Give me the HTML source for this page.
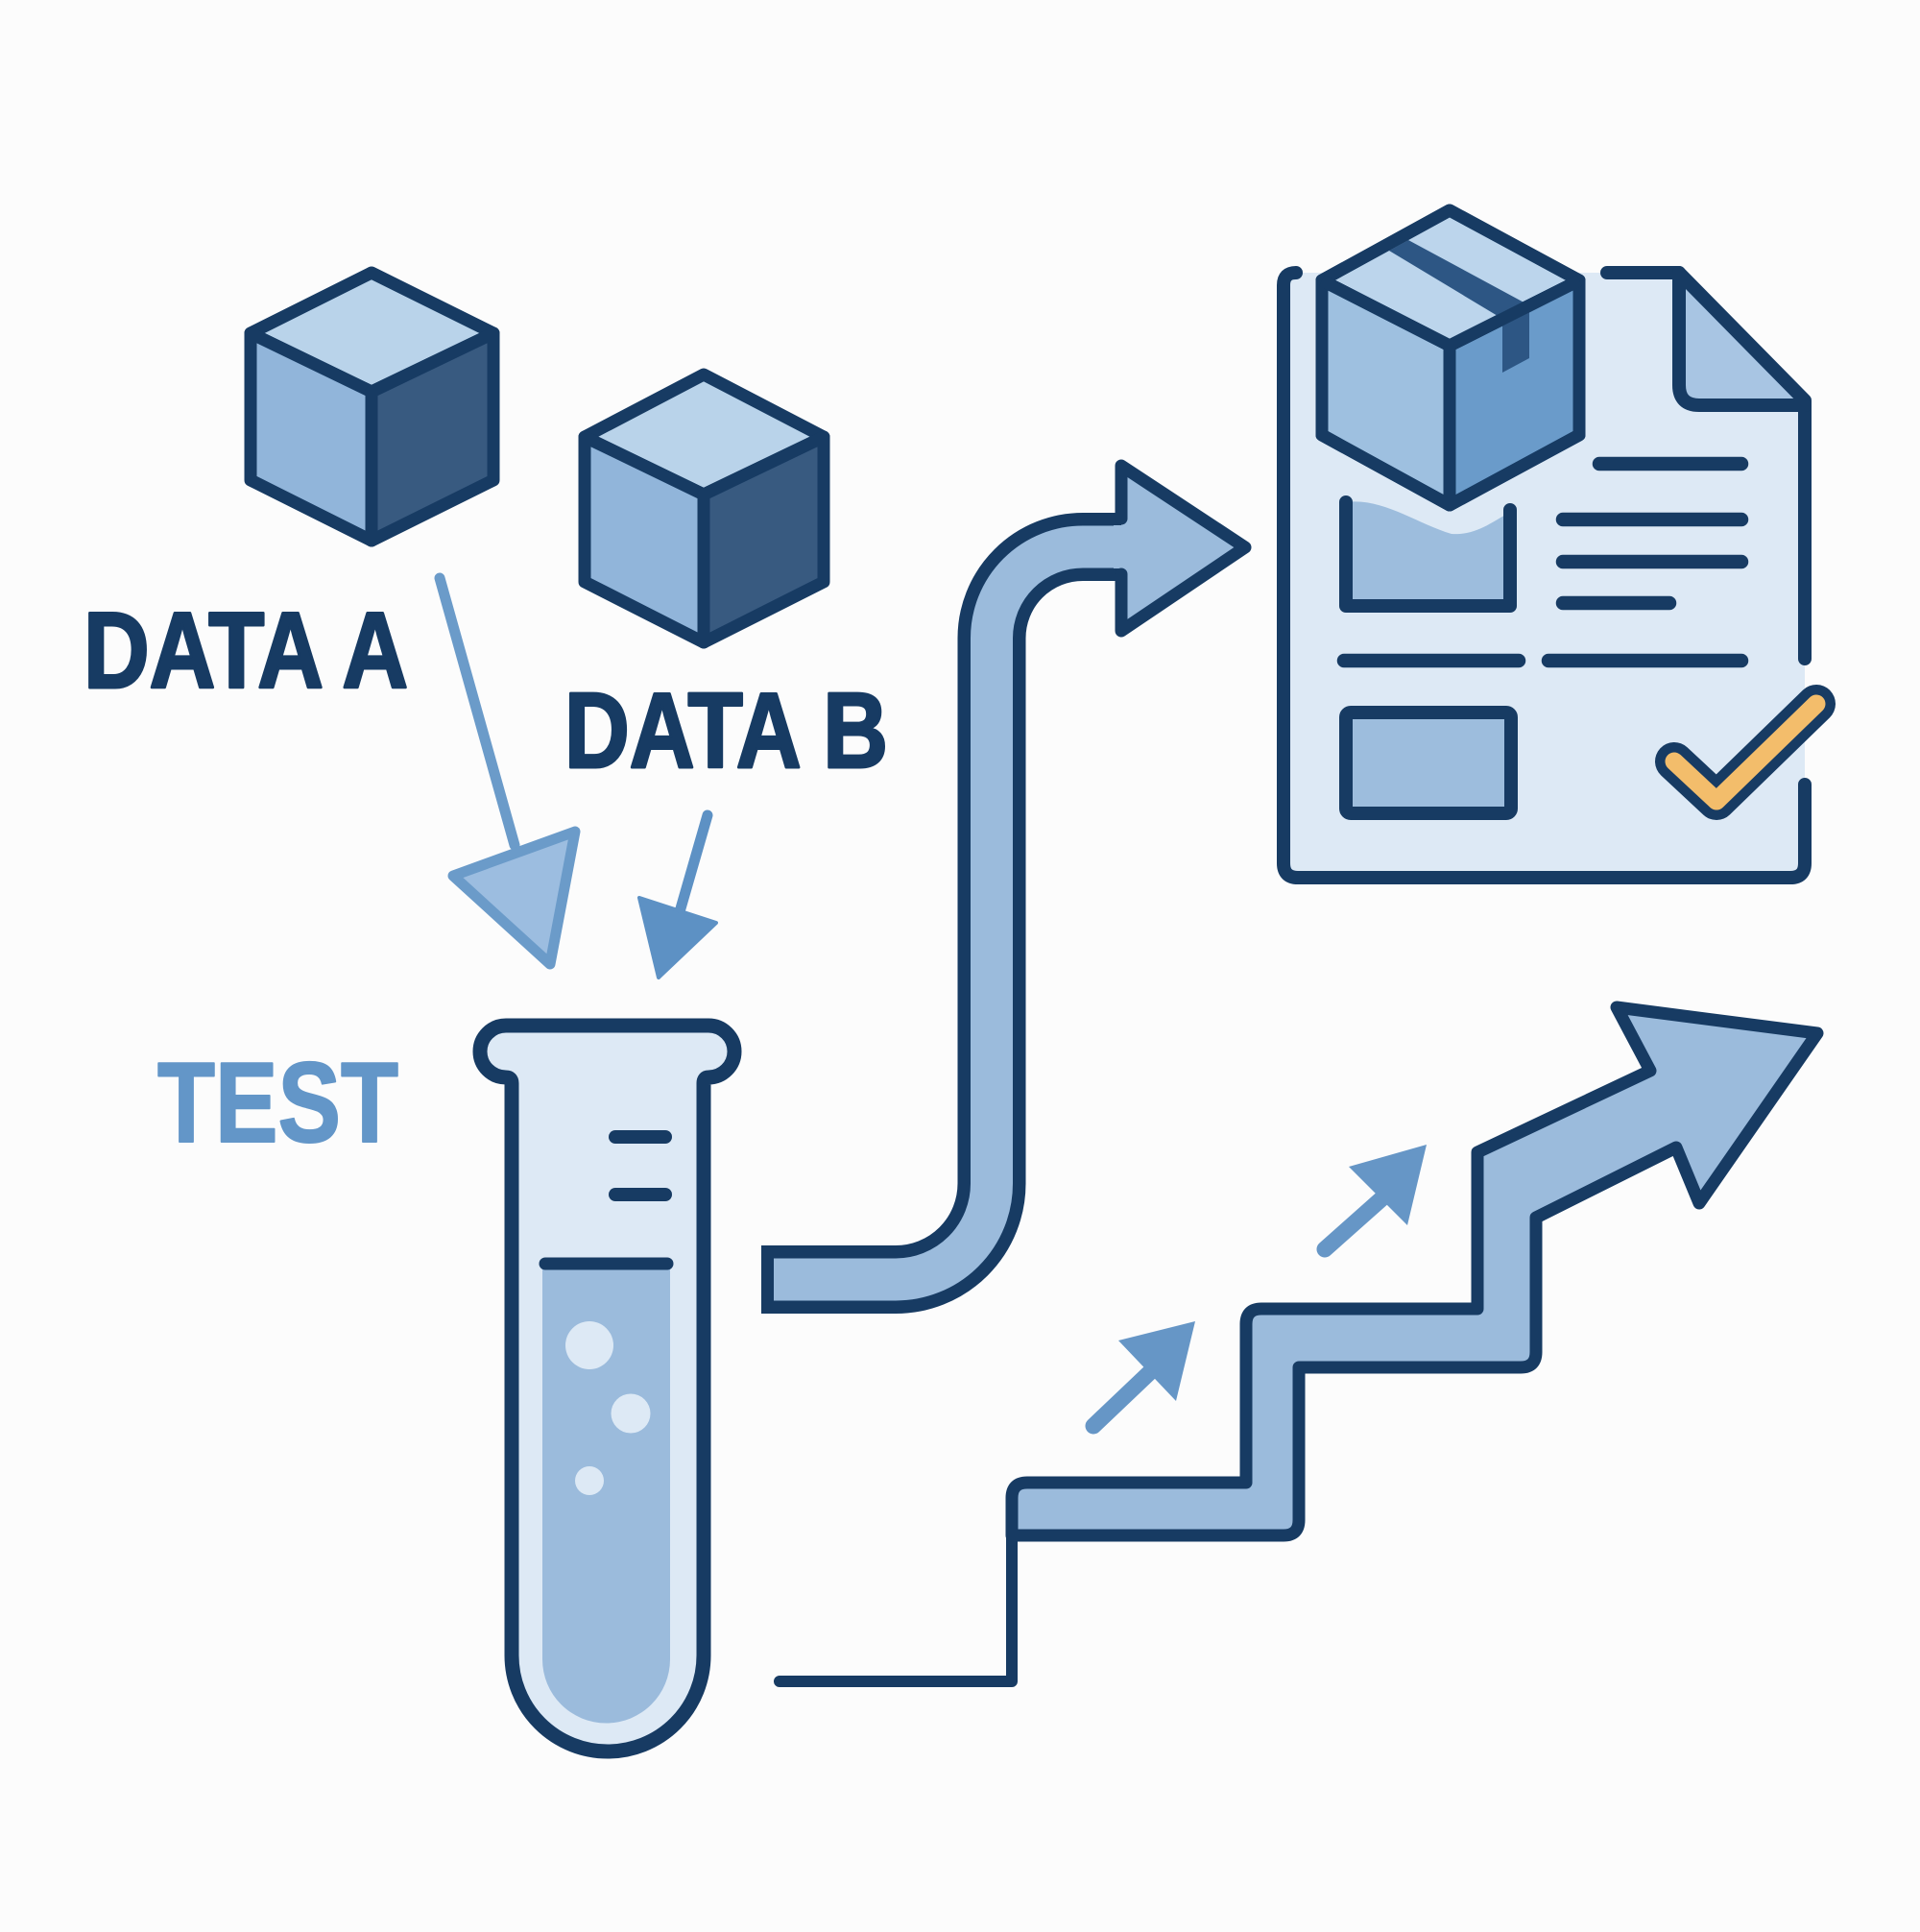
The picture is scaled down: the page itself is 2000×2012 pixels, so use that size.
<!DOCTYPE html>
<html>
<head>
<meta charset="utf-8">
<style>
html,body{margin:0;padding:0;background:#fcfcfc;}
svg{display:block;}
</style>
</head>
<body>
<svg width="2000" height="2012" viewBox="0 0 2000 2012" xmlns="http://www.w3.org/2000/svg">
<rect x="0" y="0" width="2000" height="2012" fill="#fcfcfc"/>

<!-- Cube A -->
<g stroke="#173b63" stroke-width="13" stroke-linejoin="round">
  <polygon points="387,284 514,347 387,408 261,347" fill="#b9d3ea"/>
  <polygon points="261,347 387,408 387,563 261,500" fill="#91b5da"/>
  <polygon points="387,408 514,347 514,500 387,563" fill="#385a80"/>
</g>

<!-- Cube B -->
<g stroke="#173b63" stroke-width="13" stroke-linejoin="round">
  <polygon points="733,390 858,455 733,515 609,455" fill="#b9d3ea"/>
  <polygon points="609,455 733,515 733,669 609,606" fill="#91b5da"/>
  <polygon points="733,515 858,455 858,606 733,669" fill="#385a80"/>
</g>

<!-- Labels -->
<text x="87" y="716" font-family="Liberation Sans, Arial, sans-serif" font-weight="bold" font-size="112" fill="#173b63" stroke="#173b63" stroke-width="3" stroke-linejoin="round" textLength="338" lengthAdjust="spacingAndGlyphs">DATA A</text>
<text x="588" y="799" font-family="Liberation Sans, Arial, sans-serif" font-weight="bold" font-size="111" fill="#173b63" stroke="#173b63" stroke-width="3" stroke-linejoin="round" textLength="337" lengthAdjust="spacingAndGlyphs">DATA B</text>
<text x="164" y="1189" font-family="Liberation Sans, Arial, sans-serif" font-weight="bold" font-size="119" fill="#6396c8" stroke="#6396c8" stroke-width="2" stroke-linejoin="round" textLength="251" lengthAdjust="spacingAndGlyphs">TEST</text>

<!-- Arrow A -->
<line x1="458" y1="602" x2="536" y2="880" stroke="#6b9bc9" stroke-width="11" stroke-linecap="round"/>
<polygon points="472,912 599,866 573,1004" fill="#9cbde0" stroke="#6b9bc9" stroke-width="11" stroke-linejoin="round"/>

<!-- Arrow B -->
<line x1="737" y1="849" x2="705" y2="960" stroke="#5d91c4" stroke-width="11" stroke-linecap="round"/>
<polygon points="666,935 746,961 686,1018" fill="#5d91c4" stroke="#5d91c4" stroke-width="4" stroke-linejoin="round"/>

<!-- Test tube -->
<path d="M 533 1724 L 533 1128 Q 533 1122 527 1122 A 27 27 0 0 1 527 1068 L 738 1068 A 27 27 0 0 1 738 1122 Q 733 1122 733 1128 L 733 1724 A 100 100 0 0 1 533 1724 Z" fill="#dde9f5" stroke="#173b63" stroke-width="15" stroke-linejoin="round"/>
<path d="M565 1317 H698 V1728 A66.5 66.5 0 0 1 565 1728 Z" fill="#9bbbdc"/>
<line x1="568" y1="1316" x2="695" y2="1316" stroke="#173b63" stroke-width="13" stroke-linecap="round"/>
<line x1="641" y1="1184" x2="693" y2="1184" stroke="#173b63" stroke-width="14" stroke-linecap="round"/>
<line x1="641" y1="1244" x2="693" y2="1244" stroke="#173b63" stroke-width="14" stroke-linecap="round"/>
<circle cx="614" cy="1401" r="25" fill="#dde9f5"/>
<circle cx="657" cy="1472" r="20.5" fill="#dde9f5"/>
<circle cx="614" cy="1542" r="15" fill="#dde9f5"/>

<!-- Curved arrow -->
<path d="M 793 1332.5 H 933 A 100 100 0 0 0 1033 1232.5 V 664.5 A 95 95 0 0 1 1128 569.5 H 1174" fill="none" stroke="#173b63" stroke-width="71"/>
<path d="M 806 1332.5 H 933 A 100 100 0 0 0 1033 1232.5 V 664.5 A 95 95 0 0 1 1128 569.5 H 1180" fill="none" stroke="#9bbbdc" stroke-width="44"/>
<polygon points="1168,485 1297,570 1168,657" fill="#9bbbdc"/>
<rect x="1160" y="547" width="14" height="45" fill="#9bbbdc"/>
<path d="M1168 540 V485 L1297 570 L1168 657 V598" fill="none" stroke="#173b63" stroke-width="13" stroke-linejoin="round" stroke-linecap="round"/>

<!-- Document -->
<path d="M 1350 284 H 1749 L 1880 417 V 899 Q 1880 914 1865 914 H 1352 Q 1337 914 1337 899 V 297 Q 1337 284 1350 284 Z" fill="#dde9f5"/>
<path d="M 1749 284 L 1880 417 V 422 H 1770 Q 1749 422 1749 401 Z" fill="#a8c5e3"/>
<g fill="none" stroke="#173b63" stroke-width="14" stroke-linecap="round" stroke-linejoin="round">
  <path d="M 1350 284 Q 1337 284 1337 297 V 899 Q 1337 914 1352 914 H 1865 Q 1880 914 1880 899 V 817"/>
  <path d="M 1674 284 H 1749 L 1880 417 V 686"/>
  <path d="M 1749 284 V 401 Q 1749 422 1770 422 H 1880"/>
</g>

<!-- inner box with wave -->
<path d="M 1402 523 C 1440 518 1475 545 1512 556 C 1540 558 1558 540 1573 534 V 631 H 1402 Z" fill="#9dbddd"/>
<path d="M 1402 523 V 631 H 1573 V 531" fill="none" stroke="#173b63" stroke-width="14" stroke-linecap="round" stroke-linejoin="round"/>

<!-- bottom rect -->
<rect x="1402" y="742" width="172" height="105" rx="5" fill="#9dbddd" stroke="#173b63" stroke-width="14"/>

<!-- text lines -->
<g stroke="#173b63" stroke-width="14.5" stroke-linecap="round">
  <line x1="1666" y1="483" x2="1814" y2="483"/>
  <line x1="1628" y1="541" x2="1814" y2="541"/>
  <line x1="1628" y1="585" x2="1814" y2="585"/>
  <line x1="1628" y1="628" x2="1739" y2="628"/>
  <line x1="1400" y1="688" x2="1582" y2="688"/>
  <line x1="1613" y1="688" x2="1814" y2="688"/>
</g>

<!-- checkmark -->
<polyline points="1744,793 1788,834 1892,733" fill="none" stroke="#173b63" stroke-width="40" stroke-linecap="round" stroke-linejoin="round"/>
<polyline points="1744,793 1788,834 1892,733" fill="none" stroke="#f3bd6b" stroke-width="19" stroke-linecap="round" stroke-linejoin="round"/>

<!-- Box in document -->
<g stroke="#173b63" stroke-width="13" stroke-linejoin="round">
  <polygon points="1510,219 1645,292 1510,360 1377,292" fill="#bcd5ec"/>
  <polygon points="1377,292 1510,360 1510,526 1377,453" fill="#9ec0e0"/>
  <polygon points="1510,360 1645,292 1645,453 1510,526" fill="#6a9bca"/>
</g>
<polygon points="1447,261 1467,250 1593,318 1593,373 1565,388 1565,332" fill="#2d5684"/>
<g fill="none" stroke="#173b63" stroke-width="13" stroke-linejoin="round">
  <polygon points="1510,219 1645,292 1645,453 1510,526 1377,453 1377,292"/>
  <polyline points="1377,292 1510,360 1645,292"/>
  <line x1="1510" y1="360" x2="1510" y2="526"/>
</g>

<!-- Stair arrow -->
<path d="M 812 1751 H 1054 V 1590" fill="none" stroke="#173b63" stroke-width="12" stroke-linecap="round" stroke-linejoin="round"/>
<path d="M 1054 1560 Q 1054 1544 1070 1544 H 1298 V 1379 Q 1298 1363 1314 1363 H 1539 V 1200 L 1719 1115 L 1684 1049 L 1893 1076 L 1770 1253 L 1746 1195 L 1600 1268 V 1408 Q 1600 1424 1584 1424 H 1353 V 1583 Q 1353 1599 1337 1599 H 1054 Z" fill="#9bbbdc" stroke="#173b63" stroke-width="13" stroke-linejoin="round"/>

<!-- small stair arrows -->
<line x1="1139" y1="1485" x2="1200" y2="1427" stroke="#6696c6" stroke-width="17" stroke-linecap="round"/>
<polygon points="1165,1396 1245,1376 1225,1459" fill="#6696c6"/>
<line x1="1380" y1="1301" x2="1443" y2="1245" stroke="#6696c6" stroke-width="17" stroke-linecap="round"/>
<polygon points="1405,1215 1486,1192 1466,1276" fill="#6696c6"/>

</svg>
</body>
</html>
